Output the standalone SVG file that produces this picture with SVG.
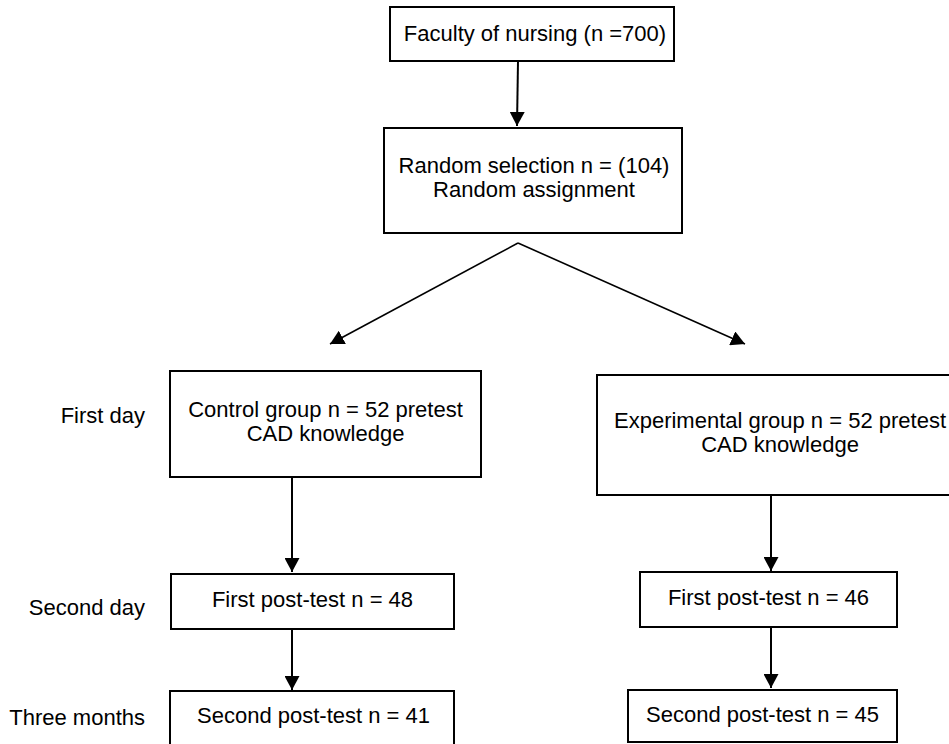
<svg xmlns="http://www.w3.org/2000/svg" width="949" height="744" viewBox="0 0 949 744">
<style>
.box{fill:#fff;stroke:#000;stroke-width:2}
.t{font-family:"Liberation Sans",Arial,sans-serif;font-size:22px;fill:#000;text-anchor:middle}
.lab{font-family:"Liberation Sans",Arial,sans-serif;font-size:22px;fill:#000;text-anchor:end}
.c{fill:none;stroke:#000;stroke-width:2;marker-end:url(#ah)}
.v{stroke-width:1.6}
</style>
<defs>
<marker id="ah" markerUnits="userSpaceOnUse" viewBox="0 0 14 15" refX="14" refY="7.5" markerWidth="14" markerHeight="15" orient="auto">
<path d="M0,0 L14,7.5 L0,15 z" fill="#000"/>
</marker>
</defs>
<rect width="949" height="744" fill="#fff"/>
<g id="labels">
<text class="lab" x="145" y="423">First day</text>
<text class="lab" x="145" y="615">Second day</text>
<text class="lab" x="145" y="725">Three months</text>
</g>
<g id="connectors">
<path class="c" d="M518,61 L517,126"/>
<path class="c v" d="M518,243 L330,344"/>
<path class="c v" d="M518,243 L745,344"/>
<path class="c" d="M292,477 L292,572"/>
<path class="c" d="M292,629 L292,690"/>
<path class="c" d="M771,495 L771,571"/>
<path class="c" d="M771,627 L771,688"/>
</g>
<g id="faculty">
<rect class="box" x="390" y="7" width="284" height="54"/>
<text class="t" x="535" y="41">Faculty of nursing (n =700)</text>
</g>
<g id="random">
<rect class="box" x="384" y="128" width="298" height="105"/>
<text class="t" x="534" y="173">Random selection n = (104)</text>
<text class="t" x="534" y="197">Random assignment</text>
</g>
<g id="control">
<rect class="box" x="170" y="371" width="311" height="106"/>
<text class="t" x="325.5" y="417">Control group n = 52 pretest</text>
<text class="t" x="325.5" y="441">CAD knowledge</text>
</g>
<g id="experimental">
<rect class="box" x="597" y="375" width="370" height="120"/>
<text class="t" x="780" y="428">Experimental group n = 52 pretest</text>
<text class="t" x="780" y="452">CAD knowledge</text>
</g>
<g id="control-post1">
<rect class="box" x="171" y="574" width="283" height="55"/>
<text class="t" x="312.5" y="607">First post-test n = 48</text>
</g>
<g id="control-post2">
<rect class="box" x="170" y="691" width="284" height="56"/>
<text class="t" x="313.5" y="723">Second post-test n = 41</text>
</g>
<g id="exp-post1">
<rect class="box" x="640" y="572" width="257" height="55"/>
<text class="t" x="768.5" y="605">First post-test n = 46</text>
</g>
<g id="exp-post2">
<rect class="box" x="628" y="690" width="269" height="52"/>
<text class="t" x="762.5" y="722">Second post-test n = 45</text>
</g>
</svg>
